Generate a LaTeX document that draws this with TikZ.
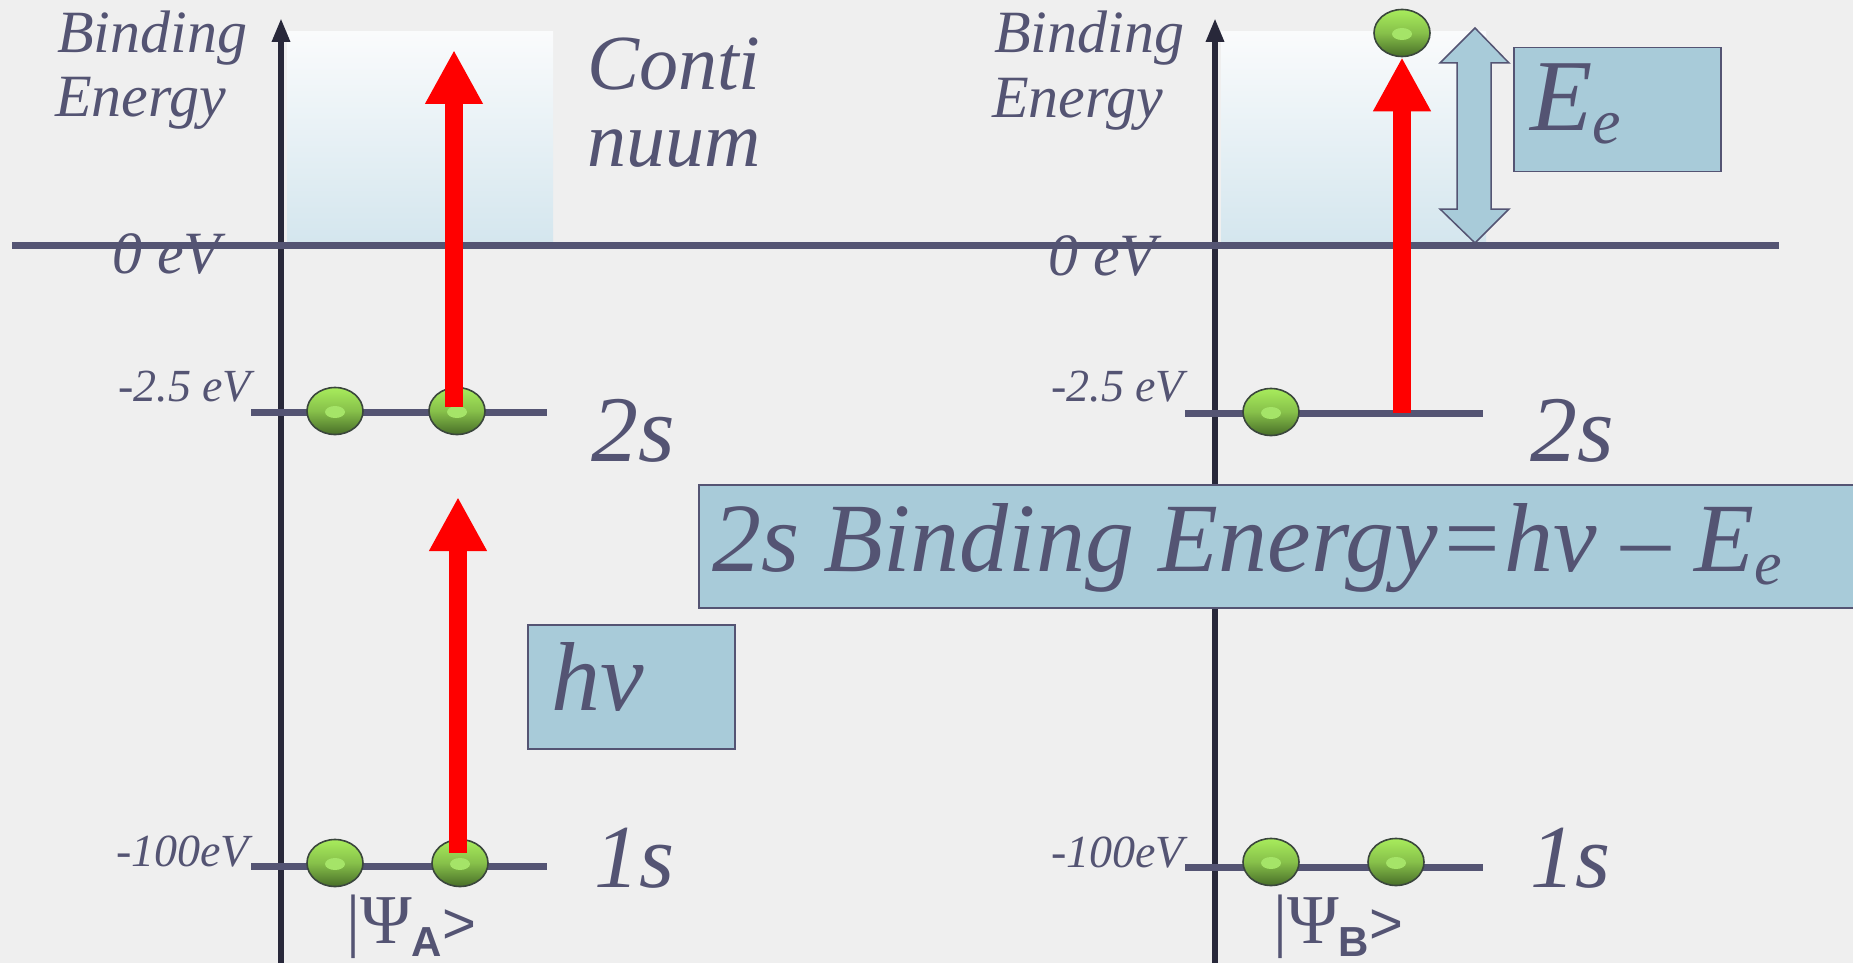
\documentclass[tikz,border=0pt]{standalone}
\usepackage{fontspec}
\setmainfont{Liberation Serif}
\newfontfamily\psifont{Liberation Serif}
\newfontfamily\sansfam{Liberation Sans}
\usetikzlibrary{arrows.meta,shapes.geometric}
\definecolor{bg}{RGB}{239,239,239}
\definecolor{ink}{RGB}{84,84,115}
\definecolor{axisc}{RGB}{40,40,58}
\definecolor{boxc}{RGB}{168,203,217}
\definecolor{redc}{RGB}{255,0,0}
\definecolor{contTop}{RGB}{250,251,252}
\definecolor{contBot}{RGB}{212,230,238}
\definecolor{eLight}{RGB}{168,236,92}
\definecolor{eDark}{RGB}{72,110,40}
\definecolor{eRim}{RGB}{58,70,60}
\definecolor{eSpot}{RGB}{165,228,104}
\newcommand\fsz[1]{\fontsize{#1}{#1}\selectfont}
\tikzset{
  lbl/.style={inner sep=0pt, text=ink, anchor=base west, font=\itshape},
  level/.style={draw=ink, line width=7pt},
  axisline/.style={draw=axisc, line width=6pt, -{Triangle[width=17pt,length=24pt]}},
  photon/.style={draw=redc, line width=18pt, -{Triangle[width=54pt,length=54pt]}},
  electron/.style={ellipse, minimum width=56pt, minimum height=47pt, inner sep=0pt,
    top color=eLight, bottom color=eDark, middle color=eLight!65!eDark, draw=eRim, line width=1.6pt,
    path picture={\fill[eSpot] ([yshift=-1pt]path picture bounding box.center) ellipse (10pt and 6pt);}},
  infobox/.style={draw=ink, line width=1.5pt, fill=boxc, inner sep=0pt, anchor=north west},
  contbox/.style={top color=contTop, bottom color=contBot}
}
\begin{document}
\begin{tikzpicture}[x=1pt,y=-1pt]
\useasboundingbox (0,0) rectangle (1853,963);
\fill[bg] (0,0) rectangle (1853,963);

% continuum regions
\shade[contbox] (287,32) rectangle (553,243);
\shade[contbox] (1221,32) rectangle (1486,243);

% axes
\coordinate (axLbot) at (281,963);
\coordinate (axLtop) at (281,18);
\coordinate (axRbot) at (1215,963);
\coordinate (axRtop) at (1215,18);
\draw[axisline] (axLbot) -- (axLtop);
\draw[axisline] (axRbot) -- (axRtop);

% energy levels
\coordinate (zL) at (12,245);
\coordinate (zR) at (1779,245);
\draw[level] (zL) -- (zR);
\coordinate (a2L) at (251,412);
\coordinate (a2R) at (547,412);
\coordinate (a1L) at (251,866);
\coordinate (a1R) at (547,866);
\coordinate (b2L) at (1185,413);
\coordinate (b2R) at (1483,413);
\coordinate (b1L) at (1185,867);
\coordinate (b1R) at (1483,867);
\draw[level] (a2L) -- (a2R);
\draw[level] (a1L) -- (a1R);
\draw[level] (b2L) -- (b2R);
\draw[level] (b1L) -- (b1R);

% labels
\node[lbl, font=\fsz{60}\itshape] (bindL) at (57,53) {Binding};
\node[lbl, font=\fsz{60}\itshape] (enL) at (55,117) {Energy};
\node[lbl, font=\fsz{60}\itshape] (bindR) at (994,53) {Binding};
\node[lbl, font=\fsz{60}\itshape] (enR) at (992,118) {Energy};
\node[lbl, font=\fsz{78}\itshape] (conti) at (587,90) {Conti};
\node[lbl, font=\fsz{78}\itshape] (nuum) at (587,167) {nuum};
\node[lbl, font=\fsz{60}\itshape] (zeroL) at (112,273) {0 eV};
\node[lbl, font=\fsz{60}\itshape] (zeroR) at (1048,275) {0 eV};
\node[lbl, font=\fsz{46}\itshape] (m25L) at (118,401) {-2.5 eV};
\node[lbl, font=\fsz{46}\itshape] (m25R) at (1051,401) {-2.5 eV};
\node[lbl, font=\fsz{46}\itshape] (m100L) at (116,866) {-100eV};
\node[lbl, font=\fsz{46}\itshape] (m100R) at (1051,867) {-100eV};
\node[lbl, font=\fsz{94}\itshape] (s2L) at (591,461) {2s};
\node[lbl, font=\fsz{94}\itshape] (s2R) at (1530,461) {2s};
\node[lbl, font=\fsz{90}\itshape] (s1L) at (594,887) {1s};
\node[lbl, font=\fsz{90}\itshape] (s1R) at (1530,887) {1s};
\node[lbl, font=\upshape] (psiA) at (346,943) {{\psifont\fsz{70}|Ψ}\raisebox{-13pt}{\sansfam\bfseries\fsz{42}A}{\sansfam\fsz{58}>}};
\node[lbl, font=\upshape] (psiB) at (1273,943) {{\psifont\fsz{70}|Ψ}\raisebox{-13pt}{\sansfam\bfseries\fsz{42}B}{\sansfam\fsz{58}>}};

% boxes
\node[infobox, minimum width=207pt, minimum height=124pt] (hvbox) at (527,624) {};
\node[lbl, font=\fsz{98}\itshape] (hv) at (551,710) {hν};
\node[infobox, minimum width=207pt, minimum height=124pt] (eebox) at (1513,47) {};
\node[lbl, font=\fsz{102}\itshape] (ee) at (1530,131) {E\raisebox{-13pt}{\fsz{64}e}};
\node[infobox, minimum width=1175pt, minimum height=123pt] (formbox) at (698,484) {};
\node[lbl, font=\fsz{98}\itshape] (formula) at (712,571) {2s Binding Energy{=}hν – E\raisebox{-13pt}{\fsz{62}e}};

% kinetic energy double arrow
\filldraw[fill=boxc, draw=ink, line width=1.5pt, line join=miter]
  (1475,28) -- (1509,63) -- (1491,63) -- (1491,209) -- (1509,209) -- (1475,243)
  -- (1440,209) -- (1457,209) -- (1457,63) -- (1440,63) -- cycle;

% electrons
\node[electron] (eA2a) at (335,411) {};
\node[electron] (eA2b) at (457,411) {};
\node[electron] (eA1a) at (335,863) {};
\node[electron] (eA1b) at (460,863) {};
\node[electron] (eB2a) at (1271,412) {};
\node[electron] (eBf) at (1402,33) {};
\node[electron] (eB1a) at (1271,862) {};
\node[electron] (eB1b) at (1396,862) {};

% photons
\coordinate (tipA2) at (454,50);
\coordinate (tipA1) at (458,497);
\coordinate (footB) at (1402,413);
\draw[photon] ([xshift=-3pt,yshift=4pt]eA2b.center) -- (tipA2);
\draw[photon] ([xshift=-2pt,yshift=10pt]eA1b.center) -- (tipA1);
\draw[photon] (footB) -- (eBf.south);
\end{tikzpicture}
\end{document}
